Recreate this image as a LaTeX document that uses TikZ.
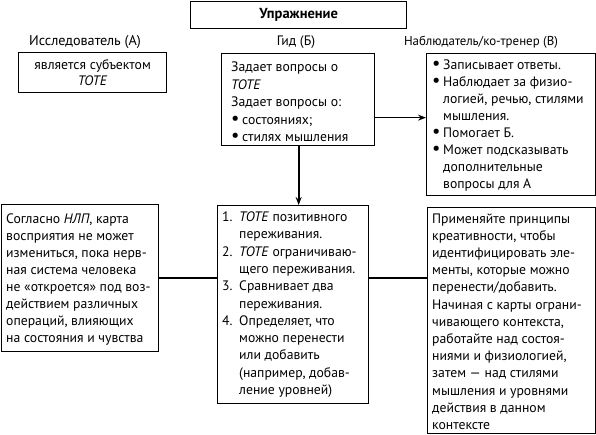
\documentclass[tikz,border=0pt]{standalone}
\usepackage{fontspec}
\setmainfont{PT Sans}
\usetikzlibrary{arrows.meta}
\newcommand\fs[1]{\fontsize{13.7}{#1}\selectfont}
\newcommand\bul{\raisebox{0.05ex}{\scalebox{1.35}{•}}}
\newcommand\bitem[1]{\makebox[11pt][l]{\bul}#1}
\newcommand\bcont[1]{\hspace*{11pt}#1}
\newcommand\nitem[2]{\makebox[17pt][l]{#1}#2}
\newcommand\ncont[1]{\hspace*{17pt}#1}
\begin{document}
\begin{tikzpicture}[x=1pt,y=-1pt,
  box/.style={draw, line width=1.3pt, anchor=north west, inner sep=0pt},
  txt/.style={anchor=west, inner sep=0pt, align=left},
  lbl/.style={inner sep=0pt},
  conn/.style={line width=1.7pt},
  arr/.style={line width=1.7pt, -{Stealth[length=8pt,width=6pt]}}]
\useasboundingbox (0,0) rectangle (596,435);

\node[box, minimum width=216pt, minimum height=27pt, font=\bfseries\fontsize{14.5}{16}\selectfont] (T) at (190,1) {Упражнение};

\node[lbl, font=\fontsize{14.2}{16}\selectfont] (LA) at (85,42) {Исследователь (А)};
\node[lbl, font=\fontsize{13.7}{16}\selectfont] (LB) at (296,42) {Гид (Б)};
\node[lbl, font=\fontsize{12.9}{16}\selectfont] (LC) at (481,42) {Наблюдатель/ко-тренер (В)};

\node[box, align=center, minimum width=148pt, minimum height=40pt, font={\fs{16}}] (A) at (18,52)
 {является субъектом\\\textit{TOTE}};

\node[box, minimum width=153pt, minimum height=92pt] (B) at (221,53) {};
\node[txt, font={\fs{17.5}}] (Bt) at ([xshift=10pt,yshift=-2.5pt]B.west)
 {Задает вопросы о\\
  \textit{TOTE}\\
  Задает вопросы о:\\
  \bitem{состояниях;}\\
  \bitem{стилях мышления}};

\node[box, minimum width=169pt, minimum height=142pt] (V) at (426,53) {};
\node[txt, font={\fs{17}}] (Vt) at ([xshift=6pt,yshift=-1pt]V.west)
 {\bitem{Записывает ответы.}\\
  \bitem{Наблюдает за физио-}\\
  \bcont{логией, речью, стилями}\\
  \bcont{мышления.}\\
  \bitem{Помогает Б.}\\
  \bitem{Может подсказывать}\\
  \bcont{дополнительные}\\
  \bcont{вопросы для А}};

\node[box, minimum width=157pt, minimum height=147pt] (L) at (1,204) {};
\node[txt, font={\fs{17}}] (Lt) at ([xshift=5pt,yshift=-1pt]L.west)
 {Согласно \textit{НЛП}, карта\\
  восприятия не может\\
  измениться, пока нерв-\\
  ная система человека\\
  не «откроется» под воз-\\
  действием различных\\
  операций, влияющих\\
  на состояния и чувства};

\node[box, minimum width=151pt, minimum height=198pt] (C) at (217,205) {};
\node[txt, font={\fs{17.3}}] (Ct) at ([xshift=5pt]C.west)
 {\nitem{1.}{\textit{TOTE} позитивного}\\
  \ncont{переживания.}\\
  \nitem{2.}{\textit{TOTE} ограничиваю-}\\
  \ncont{щего переживания.}\\
  \nitem{3.}{Сравнивает два}\\
  \ncont{переживания.}\\
  \nitem{4.}{Определяет, что}\\
  \ncont{можно перенести}\\
  \ncont{или добавить}\\
  \ncont{(например, добав-}\\
  \ncont{ление уровней)}};

\node[box, minimum width=168pt, minimum height=226pt] (R) at (427,207) {};
\node[txt, font={\fs{17.2}}] (Rt) at ([xshift=5pt,yshift=-1pt]R.west)
 {Применяйте принципы\\
  креативности, чтобы\\
  идентифицировать эле-\\
  менты, которые можно\\
  перенести/добавить.\\
  Начиная с карты ограни-\\
  чивающего контекста,\\
  работайте над состоя-\\
  ниями и физиологией,\\
  затем — над стилями\\
  мышления и уровнями\\
  действия в данном\\
  контексте};

\draw[arr] ([xshift=0.5pt]B.south) -- ([xshift=0.5pt]B.south |- C.north);
\draw[arr] ([yshift=-18pt]B.east) -- ([yshift=-18pt]B.east -| V.west);
\draw[conn] (L.east) -- (L.east -| C.west);
\draw[conn] (L.east -| C.east) -- (L.east -| R.west);
\end{tikzpicture}
\end{document}
